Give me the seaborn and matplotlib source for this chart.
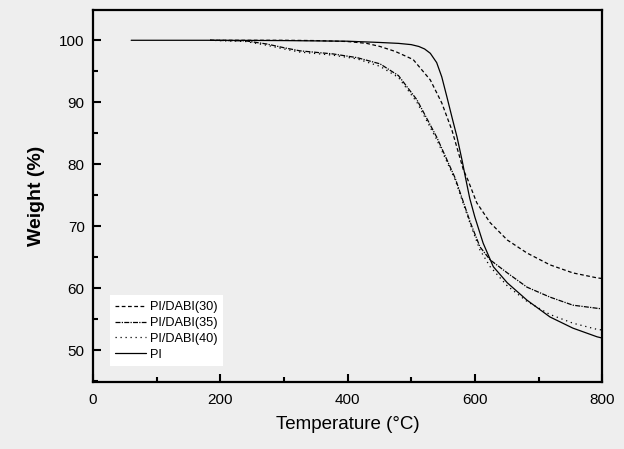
import matplotlib
matplotlib.use("Agg")
import matplotlib.pyplot as plt
import seaborn as sns
import pandas as pd
from matplotlib.ticker import MultipleLocator

# ---- data ----
t_pi = [60, 200, 300, 400, 450, 480, 500, 512, 521, 530, 540, 548, 556, 565, 572, 580, 585, 592, 600, 613, 629, 651, 682, 718, 754, 792, 800]
w_pi = [100, 100, 99.95, 99.85, 99.65, 99.5, 99.3, 99.0, 98.6, 97.9, 96.4, 94.1, 90.9, 87.2, 84.4, 80.6, 78.0, 74.5, 71.5, 67.3, 63.5, 60.9, 58.1, 55.4, 53.6, 52.2, 52.0]

t_30 = [184, 250, 300, 350, 400, 430, 451, 475, 503, 530, 548, 564, 582, 589, 603, 624, 651, 682, 718, 754, 792, 800]
w_30 = [100, 100, 100, 99.95, 99.8, 99.5, 99.0, 98.2, 96.9, 93.6, 89.9, 85.5, 79.1, 77.5, 73.8, 70.6, 67.8, 65.7, 63.8, 62.5, 61.7, 61.6]

t_35 = [184, 240, 273, 300, 325, 377, 415, 451, 480, 509, 540, 569, 593, 608, 624, 651, 682, 718, 754, 792, 800]
w_35 = [100, 99.9, 99.4, 98.8, 98.3, 97.8, 97.2, 96.2, 94.3, 90.4, 84.4, 77.8, 70.6, 66.7, 64.6, 62.5, 60.2, 58.6, 57.3, 56.8, 56.7]

t_40 = [184, 240, 273, 300, 325, 377, 415, 451, 480, 509, 540, 569, 593, 608, 624, 651, 682, 718, 754, 792, 800]
w_40 = [100, 99.8, 99.2, 98.6, 98.1, 97.6, 97.0, 95.8, 94.0, 90.0, 84.0, 77.5, 70.3, 66.2, 63.5, 60.4, 57.9, 55.8, 54.4, 53.4, 53.3]

labels = ["PI/DABI(30)", "PI/DABI(35)", "PI/DABI(40)", "PI"]
x_ticks = [0, 200, 400, 600, 800]
y_ticks = [50, 60, 70, 80, 90, 100]

series = [(t_30, w_30), (t_35, w_35), (t_40, w_40), (t_pi, w_pi)]
styles = [(0, (3, 2)), (0, (4, 1, 1, 1)), (0, (1, 3)), "-"]

bg = "#eeeeee"
sns.set_style("ticks")
plt.rcParams["font.family"] = ["Liberation Sans", "DejaVu Sans"]
plt.rcParams["text.color"] = "black"
plt.rcParams["xtick.color"] = "black"
plt.rcParams["ytick.color"] = "black"
plt.rcParams["axes.labelcolor"] = "black"

fig = plt.figure(figsize=(6.24, 4.49), dpi=100, facecolor=bg)
ax = fig.add_axes([0.149, 0.149, 0.816, 0.829])
ax.set_facecolor(bg)

for (t, w), lab, ls in zip(series, labels, styles):
    df = pd.DataFrame({"T": t, "W": w})
    sns.lineplot(data=df, x="T", y="W", ax=ax, color="black", lw=0.9,
                 linestyle=ls, label=lab, estimator=None, sort=False)

ax.set_xlim(0, 800)
ax.set_ylim(44.9, 104.9)
ax.set_xticks(x_ticks)
ax.set_yticks(y_ticks)
ax.xaxis.set_minor_locator(MultipleLocator(100))
ax.yaxis.set_minor_locator(MultipleLocator(5))
ax.tick_params(which="major", direction="in", length=6, width=1.5, labelsize=11, pad=8)
ax.tick_params(which="minor", direction="in", length=3.5, width=1.5)
ax.tick_params(axis="y", pad=6)
for s in ax.spines.values():
    s.set_linewidth(1.6)
    s.set_color("black")
    s.set_visible(True)

ax.set_xlabel("Temperature (°C)", fontsize=13.5, labelpad=6)
ax.set_ylabel("Weight (%)", fontsize=14, fontweight="bold", labelpad=10)

leg = ax.legend(loc="lower left", bbox_to_anchor=(0.02, 0.025), frameon=True, fancybox=False,
                edgecolor="white", facecolor="white", framealpha=1, fontsize=9.2,
                handlelength=2.4, handletextpad=0.3, labelspacing=0.3, borderpad=0.45)
leg.get_frame().set_linewidth(0)

fig.savefig("out.png", dpi=100, facecolor=bg)
